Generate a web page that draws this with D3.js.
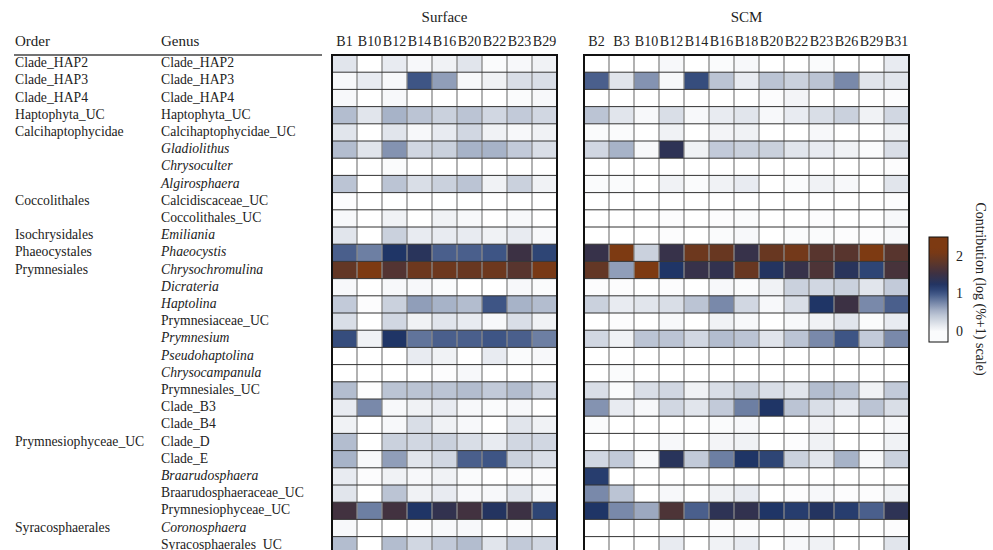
<!DOCTYPE html>
<html>
<head>
<meta charset="utf-8">
<script src="https://cdn.jsdelivr.net/npm/d3@7"></script>
<style>
  body { margin: 0; background: #fff; }
  text { font-family: "Liberation Serif", "Times New Roman", Times, serif; fill: #222; }
</style>
</head>
<body>
<svg id="chart" width="993" height="550"></svg>
<script>
// data
var genera = ["Clade_HAP2", "Clade_HAP3", "Clade_HAP4", "Haptophyta_UC", "Calcihaptophycidae_UC",
	"Gladiolithus", "Chrysoculter", "Algirosphaera", "Calcidiscaceae_UC", "Coccolithales_UC",
	"Emiliania", "Phaeocystis", "Chrysochromulina", "Dicrateria", "Haptolina", "Prymnesiaceae_UC",
	"Prymnesium", "Pseudohaptolina", "Chrysocampanula", "Prymnesiales_UC", "Clade_B3", "Clade_B4",
	"Clade_D", "Clade_E", "Braarudosphaera", "Braarudosphaeraceae_UC", "Prymnesiophyceae_UC",
	"Coronosphaera", "Syracosphaerales_UC"];
var orders = ["Clade_HAP2", "Clade_HAP3", "Clade_HAP4", "Haptophyta_UC", "Calcihaptophycidae",
	"", "", "", "Coccolithales", "", "Isochrysidales", "Phaeocystales", "Prymnesiales",
	"", "", "", "", "", "", "", "", "", "Prymnesiophyceae_UC", "", "", "", "", "Syracosphaerales", ""];
var italicGenera = ["Gladiolithus", "Chrysoculter", "Algirosphaera", "Emiliania", "Phaeocystis",
	"Chrysochromulina", "Dicrateria", "Haptolina", "Prymnesium", "Pseudohaptolina",
	"Chrysocampanula", "Braarudosphaera", "Coronosphaera"];

var surfaceCols = ["B1", "B10", "B12", "B14", "B16", "B20", "B22", "B23", "B29"];
var scmCols = ["B2", "B3", "B10", "B12", "B14", "B16", "B18", "B20", "B22", "B23", "B26", "B29", "B31"];

// log(%+1), one row per genus
var surfaceValues = [
	[0.2, 0, 0.15, 0.05, 0.1, 0.2, 0.03, 0.05, 0.1],
	[0.05, 0.15, 0.05, 1.0, 0.65, 0.05, 0.1, 0.25, 0.25],
	[0.05, 0, 0.05, 0, 0, 0, 0, 0.03, 0.05],
	[0.5, 0.2, 0.55, 0.45, 0.35, 0.45, 0.3, 0.4, 0.3],
	[0.2, 0, 0.2, 0.05, 0.15, 0.3, 0.1, 0.05, 0.1],
	[0.5, 0.2, 0.7, 0.3, 0.35, 0.55, 0.55, 0.4, 0.25],
	[0, 0, 0.03, 0, 0, 0, 0, 0, 0],
	[0.45, 0, 0.45, 0.25, 0.35, 0.45, 0.1, 0.35, 0.1],
	[0.02, 0, 0, 0, 0, 0, 0, 0, 0],
	[0.05, 0, 0.1, 0, 0.1, 0.05, 0, 0.05, 0],
	[0.2, 0, 0.35, 0.15, 0.15, 0.15, 0.1, 0.15, 0.05],
	[0.95, 0.8, 1.2, 1.3, 0.95, 0.95, 1.0, 1.5, 1.1],
	[1.85, 2.1, 1.7, 1.95, 1.95, 1.9, 1.95, 1.75, 2.05],
	[0.05, 0, 0.05, 0.05, 0.03, 0, 0, 0.05, 0.03],
	[0.4, 0.02, 0.35, 0.65, 0.55, 0.5, 1.0, 0.55, 0.5],
	[0.25, 0, 0.3, 0.1, 0.2, 0.15, 0.05, 0.25, 0.1],
	[1.05, 0.1, 1.2, 0.85, 0.95, 0.95, 1.0, 0.95, 0.8],
	[0, 0, 0, 0.15, 0.1, 0, 0.15, 0.03, 0.05],
	[0, 0, 0, 0, 0.02, 0.05, 0, 0, 0],
	[0.5, 0.02, 0.45, 0.45, 0.45, 0.5, 0.4, 0.5, 0.3],
	[0.15, 0.75, 0.05, 0.1, 0.15, 0.05, 0.03, 0.05, 0],
	[0.1, 0, 0.05, 0.25, 0.1, 0.05, 0, 0.2, 0.1],
	[0.5, 0, 0.35, 0.3, 0.35, 0.25, 0.15, 0.3, 0.3],
	[0.55, 0.05, 0.65, 0.2, 0.3, 0.95, 1.0, 0.35, 0.25],
	[0.15, 0.02, 0.1, 0.05, 0.1, 0.03, 0, 0.02, 0.02],
	[0.2, 0, 0.45, 0.1, 0.15, 0.05, 0.05, 0.2, 0.05],
	[1.55, 0.8, 1.55, 1.2, 1.4, 1.55, 1.25, 1.5, 1.1],
	[0.05, 0, 0, 0.02, 0.05, 0.05, 0, 0.02, 0],
	[0.5, 0, 0.5, 0.3, 0.4, 0.5, 0.2, 0.4, 0.3]
];
var scmValues = [
	[0, 0, 0, 0.05, 0, 0.03, 0.05, 0, 0, 0.03, 0, 0, 0.15],
	[0.95, 0.2, 0.7, 0.05, 1.05, 0.45, 0.15, 0.45, 0.35, 0.45, 0.75, 0.2, 0.2],
	[0, 0, 0, 0, 0, 0, 0, 0.02, 0.08, 0, 0, 0, 0.02],
	[0.45, 0.2, 0.05, 0.25, 0.05, 0.15, 0.2, 0.05, 0.15, 0.25, 0.35, 0.1, 0.3],
	[0.03, 0.03, 0, 0.1, 0, 0.08, 0.1, 0, 0, 0.05, 0, 0, 0.1],
	[0.3, 0.55, 0.05, 1.35, 0.1, 0.4, 0.35, 0.35, 0.2, 0.15, 0.1, 0.03, 0.25],
	[0, 0, 0, 0, 0, 0, 0, 0, 0, 0, 0, 0, 0.02],
	[0.03, 0.03, 0, 0.1, 0.03, 0.1, 0.15, 0, 0.03, 0.1, 0.05, 0, 0.2],
	[0, 0, 0, 0, 0, 0, 0, 0, 0, 0, 0, 0, 0.02],
	[0, 0, 0, 0.02, 0, 0.02, 0.03, 0, 0, 0.02, 0, 0, 0.05],
	[0, 0, 0, 0.02, 0, 0.03, 0.05, 0, 0.03, 0.03, 0.02, 0.02, 0.05],
	[1.45, 2.1, 0.35, 1.45, 1.95, 1.9, 1.45, 1.9, 2.0, 1.75, 1.75, 2.1, 1.75],
	[1.85, 0.65, 2.1, 1.2, 1.45, 1.4, 1.9, 1.25, 1.45, 1.65, 1.3, 1.1, 1.6],
	[0.02, 0.02, 0, 0.02, 0, 0.05, 0.03, 0.1, 0.35, 0.3, 0.35, 0.2, 0.4],
	[0.35, 0.15, 0.2, 0.25, 0.45, 0.75, 0.3, 0.05, 0.25, 1.2, 1.5, 0.75, 0.95],
	[0, 0.02, 0, 0.05, 0, 0.1, 0.05, 0, 0.05, 0.1, 0.2, 0.03, 0.15],
	[0.3, 0.1, 0.45, 0.45, 0.3, 0.5, 0.45, 0.2, 0.45, 0.75, 1.0, 0.4, 0.75],
	[0, 0, 0, 0, 0, 0, 0, 0, 0, 0, 0, 0, 0],
	[0, 0.03, 0, 0, 0, 0, 0, 0, 0, 0, 0, 0, 0],
	[0.25, 0.03, 0.25, 0.3, 0.1, 0.25, 0.35, 0.25, 0.2, 0.5, 0.45, 0.1, 0.4],
	[0.7, 0.15, 0.05, 0.3, 0.2, 0.4, 0.8, 1.2, 0.45, 0.25, 0.15, 0.45, 0.25],
	[0.03, 0, 0, 0, 0, 0.03, 0.05, 0, 0, 0.08, 0, 0, 0.05],
	[0, 0, 0, 0.05, 0, 0.08, 0.1, 0, 0.02, 0.1, 0, 0, 0.1],
	[0.3, 0.4, 0.05, 1.3, 0.4, 0.8, 1.2, 1.1, 0.35, 0.2, 0.55, 0.05, 0.35],
	[1.15, 0, 0, 0, 0, 0, 0, 0, 0, 0, 0, 0, 0],
	[0.75, 0.45, 0, 0.05, 0, 0.1, 0.15, 0, 0.02, 0.05, 0.02, 0.02, 0.1],
	[1.2, 0.75, 0.6, 1.65, 0.95, 1.35, 1.4, 1.2, 1.15, 1.25, 1.15, 0.95, 1.35],
	[0, 0, 0, 0, 0, 0.02, 0.02, 0, 0.02, 0, 0, 0, 0.02],
	[0, 0, 0, 0.15, 0, 0.1, 0.15, 0, 0.05, 0.1, 0, 0, 0.2]
];
var legendTicks = [0, 1, 2];

var svg = d3.select("#chart");

var color = d3.scaleLinear()
	.domain([0, 0.5, 1.0, 1.2, 1.5, 1.8, 2.1])
	.range(["#ffffff", "#b3bdcf", "#3e5585", "#1f3566", "#3c3144", "#5e3629", "#7d3a12"])
	.clamp(true);

var y = d3.scaleBand().domain(genera).range([55, 55 + 29 * 17.2]);

var panels = [
	{ name: "Surface", cols: surfaceCols, values: surfaceValues, range: [332, 557] },
	{ name: "SCM", cols: scmCols, values: scmValues, range: [584, 909] }
];

// header
svg.append("text").attr("x", 15).attr("y", 46).attr("font-size", 15).text("Order");
svg.append("text").attr("x", 161).attr("y", 46).attr("font-size", 15).text("Genus");
svg.append("line").attr("x1", 14).attr("x2", 322).attr("y1", 55).attr("y2", 55)
	.attr("stroke", "#444").attr("stroke-width", 1.6);

// row labels
var labels = svg.append("g");
labels.selectAll(".order").data(orders).enter().append("text")
	.attr("x", 15)
	.attr("y", function(d, i) { return y(genera[i]) + y.bandwidth() / 2 + 3.5; })
	.attr("font-size", 13.7)
	.text(function(d) { return d; });
labels.selectAll(".genus").data(genera).enter().append("text")
	.attr("x", 161)
	.attr("y", function(d) { return y(d) + y.bandwidth() / 2 + 3.5; })
	.attr("font-size", 13.7)
	.attr("font-style", function(d) { return italicGenera.indexOf(d) >= 0 ? "italic" : "normal"; })
	.text(function(d) { return d; });

panels.forEach(function(p) {
	var x = d3.scaleBand().domain(p.cols).range(p.range);
	var g = svg.append("g");

	g.append("text")
		.attr("x", (p.range[0] + p.range[1]) / 2).attr("y", 22)
		.attr("text-anchor", "middle").attr("font-size", 15)
		.text(p.name);

	g.selectAll(".col").data(p.cols).enter().append("text")
		.attr("x", function(d) { return x(d) + x.bandwidth() / 2; })
		.attr("y", 46)
		.attr("text-anchor", "middle")
		.attr("font-size", 14)
		.text(function(d) { return d; });

	var cells = [];
	p.values.forEach(function(row, i) {
		row.forEach(function(v, j) {
			cells.push({ genus: genera[i], col: p.cols[j], value: v });
		});
	});

	g.selectAll("rect.cell").data(cells).enter().append("rect")
		.attr("class", "cell")
		.attr("x", function(d) { return x(d.col); })
		.attr("y", function(d) { return y(d.genus); })
		.attr("width", x.bandwidth())
		.attr("height", y.bandwidth())
		.attr("fill", function(d) { return color(d.value); });

	// grid lines
	g.selectAll(".vline").data(p.cols.slice(1)).enter().append("line")
		.attr("x1", function(d) { return x(d); }).attr("x2", function(d) { return x(d); })
		.attr("y1", y.range()[0]).attr("y2", y.range()[1])
		.attr("stroke", "#888").attr("stroke-width", 1.3);
	g.selectAll(".hline").data(genera.slice(1)).enter().append("line")
		.attr("x1", p.range[0]).attr("x2", p.range[1])
		.attr("y1", function(d) { return y(d); }).attr("y2", function(d) { return y(d); })
		.attr("stroke", "#333").attr("stroke-width", 1);
	g.append("rect")
		.attr("x", p.range[0]).attr("y", y.range()[0])
		.attr("width", p.range[1] - p.range[0]).attr("height", y.range()[1] - y.range()[0])
		.attr("fill", "none").attr("stroke", "#111").attr("stroke-width", 2);
});

// colour bar legend
var ly = d3.scaleLinear().domain([0, 2]).range([331, 256]);
var barTop = 237, barBottom = 342;
var grad = svg.append("defs").append("linearGradient")
	.attr("id", "cbar").attr("x1", 0).attr("x2", 0).attr("y1", 1).attr("y2", 0);
d3.range(0, 21).forEach(function(k) {
	var t = k / 20;
	var v = ly.invert(barBottom + (barTop - barBottom) * t);
	grad.append("stop").attr("offset", t).attr("stop-color", color(Math.max(v, 0) * 0.97 + 0.03));
});
svg.append("rect")
	.attr("x", 929).attr("y", barTop).attr("width", 19).attr("height", barBottom - barTop)
	.attr("fill", "url(#cbar)").attr("stroke", "#111").attr("stroke-width", 1);
svg.selectAll(".ltick").data(legendTicks).enter().append("text")
	.attr("x", 956).attr("y", function(d) { return ly(d) + 4.5; })
	.attr("font-size", 14)
	.text(function(d) { return d; });
svg.append("text")
	.attr("transform", "translate(976,289) rotate(90)")
	.attr("text-anchor", "middle")
	.attr("font-size", 14)
	.text("Contribution (log (%+1) scale)");
</script>
</body>
</html>
